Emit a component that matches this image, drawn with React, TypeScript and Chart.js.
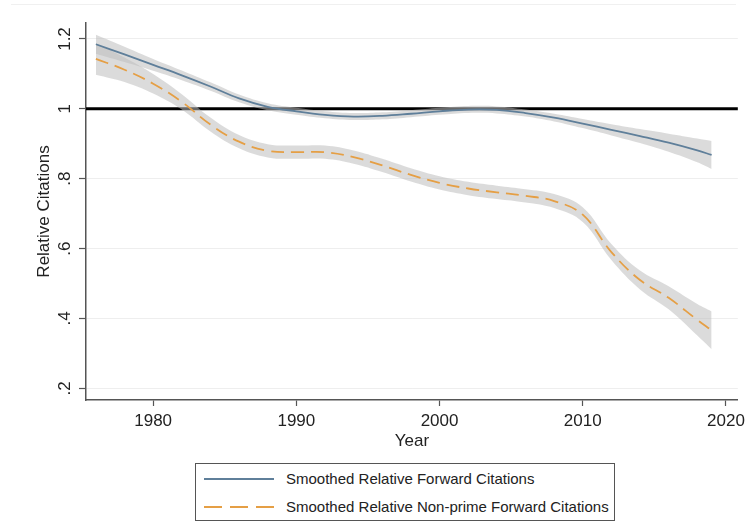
import React, { useEffect, useRef } from "react";
import { Chart, registerables } from "chart.js";

Chart.register(...registerables);

// ---- data ----
const years = [1976, 1978, 1980, 1982, 1984, 1986, 1988, 1990, 1992, 1994, 1996, 1998, 2000, 2002, 2004, 2006, 2008, 2010, 2012, 2014, 2016, 2018, 2019];
const forwardCitations = [1.185, 1.156, 1.126, 1.096, 1.064, 1.030, 1.006, 0.993, 0.983, 0.978, 0.980, 0.986, 0.993, 0.998, 0.997, 0.988, 0.975, 0.958, 0.940, 0.922, 0.903, 0.881, 0.868];
const forwardCI = [0.027, 0.022, 0.017, 0.014, 0.012, 0.011, 0.010, 0.010, 0.010, 0.010, 0.010, 0.010, 0.010, 0.010, 0.010, 0.010, 0.011, 0.013, 0.016, 0.020, 0.026, 0.034, 0.040];
const nonPrimeCitations = [1.143, 1.112, 1.072, 1.020, 0.955, 0.906, 0.880, 0.876, 0.876, 0.862, 0.838, 0.811, 0.788, 0.772, 0.761, 0.751, 0.736, 0.697, 0.590, 0.510, 0.459, 0.396, 0.366];
const nonPrimeCI = [0.045, 0.035, 0.028, 0.022, 0.020, 0.019, 0.019, 0.019, 0.019, 0.019, 0.019, 0.019, 0.019, 0.019, 0.019, 0.019, 0.020, 0.021, 0.023, 0.027, 0.033, 0.045, 0.054];

const xTicks = [1980, 1990, 2000, 2010, 2020];
const yTickValues = [0.2, 0.4, 0.6, 0.8, 1, 1.2];
const yTickLabels = [".2", ".4", ".6", ".8", "1", "1.2"];
const referenceValue = 1;
const xMin = 1975.31;
const xMax = 2020.83;
const yMin = 0.1665;
const yMax = 1.2458;

const legendLabels = ["Smoothed Relative Forward Citations", "Smoothed Relative Non-prime Forward Citations"];

const FONT = "'Liberation Sans', Arial, Helvetica, sans-serif";
const BLUE = "#5f7f9a";
const ORANGE = "#e59f45";
const BAND = "rgba(190,190,190,0.55)";
const TENSION = 0.4;

const pts = (vals: number[]) => years.map((x, i) => ({ x, y: vals[i] }));

export default function App() {
  const ref = useRef<HTMLCanvasElement | null>(null);

  useEffect(() => {
    document.body.style.margin = "0";
    const canvas = ref.current;
    if (!canvas) return;

    const overlay = {
      id: "stataOverlay",
      beforeDatasetsDraw(chart: any) {
        const { ctx, chartArea, scales } = chart;
        const y = scales.y.getPixelForValue(referenceValue);
        ctx.save();
        ctx.strokeStyle = "#000";
        ctx.lineWidth = 3;
        ctx.beginPath();
        ctx.moveTo(chartArea.left, y);
        ctx.lineTo(chartArea.right, y);
        ctx.stroke();
        ctx.restore();
      },
      afterDraw(chart: any) {
        const { ctx, scales } = chart;
        ctx.save();
        ctx.fillStyle = "#222";
        ctx.font = `17px ${FONT}`;
        ctx.textAlign = "center";
        ctx.textBaseline = "middle";
        yTickValues.forEach((v, i) => {
          const py = scales.y.getPixelForValue(v);
          ctx.save();
          ctx.translate(65, py);
          ctx.rotate(-Math.PI / 2);
          ctx.fillText(yTickLabels[i], 0, 0);
          ctx.restore();
        });
        ctx.restore();
      },
    };

    const band = (vals: number[], label: string, fill: any) => ({
      label,
      data: pts(vals),
      borderWidth: 0,
      borderColor: "rgba(0,0,0,0)",
      backgroundColor: BAND,
      fill,
      tension: TENSION,
    });

    const chart = new Chart(canvas, {
      type: "line",
      data: {
        datasets: [
          {
            label: legendLabels[0],
            data: pts(forwardCitations),
            borderColor: BLUE,
            borderWidth: 1.8,
            fill: false,
            tension: TENSION,
          },
          {
            label: legendLabels[1],
            data: pts(nonPrimeCitations),
            borderColor: ORANGE,
            borderWidth: 1.8,
            borderDash: [13, 7],
            fill: false,
            tension: TENSION,
          },
          band(forwardCitations.map((v, i) => v - forwardCI[i]), "fwd low", false),
          band(forwardCitations.map((v, i) => v + forwardCI[i]), "fwd high", "-1"),
          band(nonPrimeCitations.map((v, i) => v - nonPrimeCI[i]), "np low", false),
          band(nonPrimeCitations.map((v, i) => v + nonPrimeCI[i]), "np high", "-1"),
        ],
      },
      options: {
        responsive: false,
        animation: false,
        layout: { padding: { left: 0, top: 23, right: 9, bottom: 73 } },
        elements: { point: { radius: 0 } },
        plugins: {
          legend: { display: false },
          tooltip: { enabled: false },
        },
        scales: {
          x: {
            type: "linear",
            min: xMin,
            max: xMax,
            afterBuildTicks: (s: any) => {
              s.ticks = xTicks.map((v) => ({ value: v }));
            },
            afterFit: (s: any) => {
              s.height = 52;
            },
            grid: {
              drawOnChartArea: false,
              drawTicks: true,
              tickLength: 6,
              tickColor: "#555",
              tickWidth: 1.2,
            },
            border: { color: "#555", width: 1.5 },
            ticks: {
              font: { family: FONT, size: 17 },
              color: "#222",
              padding: 5,
              maxRotation: 0,
              autoSkip: false,
              callback: (v: any) => String(v),
            },
            title: {
              display: true,
              text: "Year",
              font: { family: FONT, size: 17 },
              color: "#222",
              padding: { top: 0, bottom: 0 },
            },
          },
          y: {
            type: "linear",
            min: yMin,
            max: yMax,
            afterBuildTicks: (s: any) => {
              s.ticks = yTickValues.map((v) => ({ value: v }));
            },
            afterFit: (s: any) => {
              s.width = 86;
            },
            grid: {
              color: "#eeeeee",
              lineWidth: 1,
              drawTicks: true,
              tickLength: 7,
              tickColor: "#555",
              tickWidth: 1.2,
            },
            border: { color: "#555", width: 1.5 },
            ticks: { display: false },
            title: {
              display: true,
              text: "Relative Citations",
              font: { family: FONT, size: 17 },
              color: "#222",
              padding: { top: 34, bottom: 0 },
            },
          },
        },
      },
      plugins: [overlay],
    } as any);

    return () => chart.destroy();
  }, []);

  const row = (label: string, dashed: boolean, top: number) => (
    <div style={{ position: "absolute", left: 0, top, width: "100%", height: 20 }}>
      <div
        style={{
          position: "absolute",
          left: 8,
          top: 9,
          width: 70,
          height: 2,
          backgroundColor: dashed ? "transparent" : BLUE,
          backgroundImage: dashed
            ? `repeating-linear-gradient(to right, ${ORANGE} 0px, ${ORANGE} 18px, transparent 18px, transparent 26px)`
            : "none",
        }}
      />
      <div
        style={{
          position: "absolute",
          left: 90,
          top: 0,
          lineHeight: "20px",
          fontSize: 15,
          fontFamily: FONT,
          color: "#222",
          whiteSpace: "nowrap",
        }}
      >
        {label}
      </div>
    </div>
  );

  return (
    <div style={{ position: "fixed", left: 0, top: 0, width: 750, height: 525, background: "#fff" }}>
      <div style={{ position: "absolute", left: 11, top: 4, width: 725, height: 0, borderTop: "1px solid #f0f0f0" }} />
      <canvas ref={ref} width={750} height={525} style={{ position: "absolute", left: 0, top: 0, width: 750, height: 525 }} />
      <div
        style={{
          position: "absolute",
          left: 195,
          top: 463,
          width: 420,
          height: 58,
          border: "1px solid #555",
          boxSizing: "border-box",
          background: "#fff",
        }}
      >
        {row(legendLabels[0], false, 5)}
        {row(legendLabels[1], true, 33)}
      </div>
    </div>
  );
}
